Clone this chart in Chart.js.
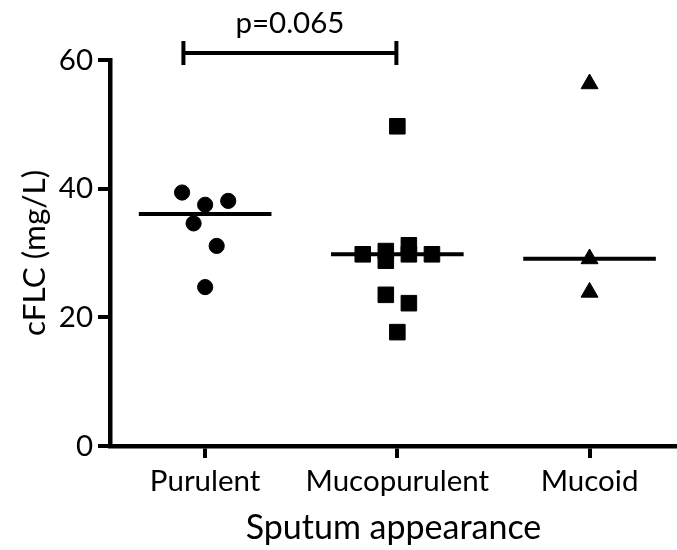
<!DOCTYPE html>
<html>
<head>
<meta charset="utf-8">
<script src="https://cdn.jsdelivr.net/npm/chart.js@4/dist/chart.umd.min.js"></script>
<style>
  html, body { margin: 0; padding: 0; background: #fff; }
  #wrap { width: 677px; height: 550px; }
</style>
</head>
<body>
<div id="wrap"><canvas id="c" width="677" height="550"></canvas></div>
<script>
// cFLC by sputum appearance (mg/L)
const categories = ['Purulent', 'Mucopurulent', 'Mucoid'];
const purulent = [39.4, 37.5, 38.1, 34.6, 31.1, 24.7];
const mucopurulent = [49.7, 29.8, 30.3, 31.2, 29.8, 28.8, 29.8, 23.5, 22.2, 17.7];
const mucoid = [56.3, 29.1, 23.9];
const yTicks = [0, 20, 40, 60];
const comparison = { from: 'Purulent', to: 'Mucopurulent', label: 'p=0.065' };

const FONT = 'Lato';
const groups = [purulent, mucopurulent, mucoid];
const shapes = ['circle', 'rect', 'triangle'];
const radii = [7.6, 11.0, 9.8];

function median(vals) {
  const s = vals.slice().sort((a, b) => a - b);
  const m = Math.floor(s.length / 2);
  return s.length % 2 ? s[m] : (s[m - 1] + s[m]) / 2;
}

// Column-scatter layout: values close in height share a row and are
// spread symmetrically around the category centre (in data order).
function swarm(values, center, rowSpan, perLine, step) {
  const order = values.map((v, i) => i).sort((a, b) => values[b] - values[a]);
  const rows = [];
  let cur = null;
  for (const i of order) {
    if (!cur || values[cur.start] - values[i] > rowSpan) {
      cur = { start: i, members: [] };
      rows.push(cur);
    }
    cur.members.push(i);
  }
  const xs = new Array(values.length);
  rows.forEach(row => {
    const m = row.members.slice().sort((a, b) => a - b);
    for (let k = 0; k < m.length; k += perLine) {
      const line = m.slice(k, k + perLine);
      line.forEach((idx, j) => { xs[idx] = center + (j - (line.length - 1) / 2) * step; });
    }
  });
  return values.map((v, i) => ({ x: xs[i], y: v }));
}

const datasets = [];
groups.forEach((vals, g) => {
  const med = median(vals);
  datasets.push({
    type: 'line',
    label: categories[g] + ' median',
    data: [{ x: g + 1 - 0.345, y: med }, { x: g + 1 + 0.345, y: med }],
    borderColor: '#000',
    borderWidth: 4,
    borderCapStyle: 'butt',
    pointRadius: 0,
    fill: false,
    order: 2
  });
  datasets.push({
    type: 'scatter',
    label: categories[g],
    data: swarm(vals, g + 1, 4, 4, 0.12),
    pointStyle: shapes[g],
    pointRadius: radii[g],
    pointHoverRadius: radii[g],
    backgroundColor: '#000',
    borderColor: '#000',
    borderWidth: 1,
    order: 1
  });
});

// significance bracket with its p-value above the plot
const bracketPlugin = {
  id: 'bracket',
  afterDraw(chart, args, opts) {
    const { ctx, scales: { x, y } } = chart;
    const i0 = categories.indexOf(comparison.from) + 1;
    const i1 = categories.indexOf(comparison.to) + 1;
    const x0 = x.getPixelForValue(i0 + opts.startOffset);
    const x1 = x.getPixelForValue(i1 + opts.endOffset);
    const yy = y.getPixelForValue(opts.level);
    ctx.save();
    ctx.strokeStyle = '#000';
    ctx.lineWidth = opts.lineWidth;
    ctx.lineCap = 'butt';
    ctx.beginPath();
    ctx.moveTo(x0, yy); ctx.lineTo(x1, yy);
    ctx.moveTo(x0, yy - opts.cap); ctx.lineTo(x0, yy + opts.cap);
    ctx.moveTo(x1, yy - opts.cap); ctx.lineTo(x1, yy + opts.cap);
    ctx.stroke();
    ctx.fillStyle = '#000';
    ctx.font = opts.fontSize + 'px ' + FONT;
    ctx.textAlign = 'center';
    ctx.textBaseline = 'alphabetic';
    ctx.fillText(comparison.label, (x0 + x1) / 2, yy - opts.textGap);
    ctx.restore();
  }
};

const axisGrid = { drawOnChartArea: false, drawTicks: true, tickLength: 12, lineWidth: 4, color: '#000' };
const axisBorder = { display: true, width: 4.5, color: '#000' };

new Chart(document.getElementById('c'), {
  data: { datasets },
  options: {
    responsive: false,
    animation: false,
    devicePixelRatio: 1,
    layout: { autoPadding: false, padding: { top: 60, right: 0, left: 0, bottom: 0 } },
    plugins: {
      legend: { display: false },
      tooltip: { enabled: false },
      bracket: { level: 61.1, startOffset: -0.113, endOffset: -0.005, cap: 12, lineWidth: 4, fontSize: 29.5, textGap: 20 }
    },
    scales: {
      x: {
        type: 'linear',
        min: 0.505,
        max: 3.455,
        afterBuildTicks: s => { s.ticks = categories.map((c, i) => ({ value: i + 1 })); },
        afterFit: s => { s.height = 104; },
        ticks: {
          callback: v => categories[v - 1],
          color: '#000',
          font: { family: FONT, size: 29.5 },
          padding: 6,
          maxRotation: 0,
          autoSkip: false
        },
        grid: axisGrid,
        border: axisBorder,
        title: {
          display: true,
          text: 'Sputum appearance',
          color: '#000',
          font: { family: FONT, size: 34, lineHeight: 1.2 },
          padding: { top: 0, bottom: 2 }
        }
      },
      y: {
        type: 'linear',
        min: 0,
        max: 60,
        afterBuildTicks: s => { s.ticks = yTicks.map(v => ({ value: v })); },
        afterFit: s => { s.width = 110; },
        ticks: {
          color: '#000',
          font: { family: FONT, size: 29.5 },
          padding: 5
        },
        grid: axisGrid,
        border: axisBorder,
        title: {
          display: true,
          text: 'cFLC (mg/L)',
          color: '#000',
          font: { family: FONT, size: 31.5, lineHeight: 1.2 },
          padding: { top: 16, bottom: 0 }
        }
      }
    }
  },
  plugins: [bracketPlugin]
});
</script>
</body>
</html>
